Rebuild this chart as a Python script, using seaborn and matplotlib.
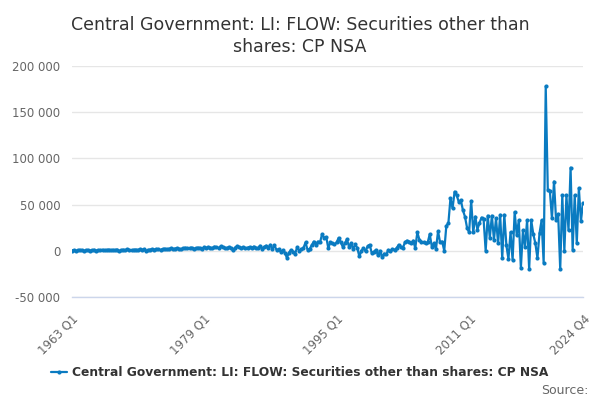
import matplotlib
matplotlib.use("Agg")
import matplotlib.pyplot as plt
import matplotlib.ticker as mticker
import seaborn as sns
import pandas as pd

start_year = 1963
end_label = "2024 Q4"

values = [
    # 1963-1966
    200, 800, -300, 600, 1000, 400, -200, 700, 900, 300, 500, 1100, 200, 800, 600, 1200,
    # 1967-1970
    400, 900, 1300, 500, 1000, 700, 1400, -700, 800, 1200, 600, 1500, 900, 400, 1100, 1300,
    # 1971-1974
    800, 1600, 1000, 1800, -400, 900, 1400, 1700, 1200, 2000, 1500, 1000, 1900, 2300, 1600, 2100,
    # 1975-1978
    2600, 1800, 2400, 3000, 2200, 1500, 2800, 3300, 2500, 2900, 3500, 2000, 2700, 3400, 3100, 2400,
    # 1979-1982
    3800, 2900, 4200, 3500, 2600, 4500, 3900, 3000, 4800, 3600, 3200, 2800, 4100, 2600, 500, 3500,
    # 1983-1986
    5200, 4000, 3100, 3800, 2700, 3500, 4200, 3000, 4600, 3300, 2500, 5500, 2400, 4000, 5600, 3200,
    # 1987-1990
    6500, 2000, 5800, 1000, 1500, -1000, 500, -2000, -7500, -2000, 1000, -1000, -3000, 4000, 0, 1500,
    # 1991-1994
    3000, 9000, 1000, 2000, 6000, 10000, 6500, 10000, 9000, 18000, 14000, 15000, 3000, 9000, 8000, 7000,
    # 1995-1998
    9000, 14000, 9000, 4500, 8000, 12500, 4500, 8000, 2000, 7000, 3000, -6000, 0, 3000, -700, 5000,
    # 1999-2002
    6500, -2500, -1000, 1000, -5000, 0, -7000, -3000, -4000, 1000, -500, 2000, 1000, 3000, 6500, 4000,
    # 2003-2006
    3000, 9000, 11000, 10000, 8000, 11000, 3000, 20000, 12000, 10000, 9000, 8000, 9000, 18000, 4500, 8000,
    # 2007-2010
    2000, 21000, 9000, 10000, 0, 27000, 30000, 57000, 46000, 64000, 60000, 53000, 55000, 44000, 37000, 25000,
    # 2011-2014
    20000, 54000, 20000, 37000, 23000, 30000, 36000, 34000, 0, 38000, 14000, 38000, 12000, 35000, 8000, 39000,
    # 2015-2018
    -8000, 39000, 6000, -9000, 20000, -10000, 42000, 17000, 33000, -18500, 22000, 4000, 33000, -20000, 33000, 18000,
    # 2019-2022
    8000, -8000, 19000, 33000, -13000, 178000, 66000, 65000, 35000, 75000, 33000, 40000, -20000, 60000, 0, 60000,
    # 2023-2024
    22000, 90000, 1000, 60000, 8000, 68000, 32000, 52000,
]

series_name = "Central Government: LI: FLOW: Securities other than shares: CP NSA"
title_text = "Central Government: LI: FLOW: Securities other than\nshares: CP NSA"

n = len(values)
labels = [f"{start_year + i // 4} Q{i % 4 + 1}" for i in range(n)]
df = pd.DataFrame({"idx": range(n), "value": values, "label": labels})

sns.set_theme(style="white")
plt.rcParams["font.family"] = ["DejaVu Sans"]

blue = "#0a7bc1"
fig = plt.figure(figsize=(6, 4), dpi=100)
ax = fig.add_axes([71.5 / 600, 1 - 297 / 400, 511.5 / 600, (297 - 66) / 400])

sns.lineplot(data=df, x="idx", y="value", ax=ax, color=blue, linewidth=1.6,
             marker="o", markersize=3, markeredgewidth=0, label=series_name, legend=False)

ax.set_xlim(0, n - 1)
ax.set_ylim(-50000, 200000)
ax.set_yticks([-50000, 0, 50000, 100000, 150000, 200000])
ax.yaxis.set_major_formatter(mticker.FuncFormatter(lambda v, p: f"{int(v):,}".replace(",", " ")))
ax.grid(axis="y", color="#e6e6e6", linewidth=1)
ax.grid(axis="x", visible=False)

tick_pos = list(range(0, 225, 16)) + [n - 1]
tick_lab = []
for t in tick_pos:
    if t == n - 1:
        tick_lab.append(labels[t])
    elif t % 64 == 0:
        tick_lab.append(labels[t])
    else:
        tick_lab.append("")
ax.set_xticks(tick_pos)
ax.set_xticklabels(tick_lab, rotation=45, ha="right", rotation_mode="anchor")

for s in ["top", "right", "left"]:
    ax.spines[s].set_visible(False)
ax.spines["bottom"].set_color("#ccd6eb")
ax.spines["bottom"].set_linewidth(1)
ax.tick_params(axis="x", colors="#666666", labelsize=8.5, length=8, width=1, direction="out", color="#ccd6eb", pad=3)
ax.tick_params(axis="y", colors="#666666", labelsize=8.5, length=0, pad=8)
ax.set_xlabel("")
ax.set_ylabel("")

fig.text(0.5, 0.96, title_text, ha="center", va="top", fontsize=12.5, color="#333333", linespacing=1.3)

handle = plt.Line2D([], [], color=blue, linewidth=1.6, marker="o", markersize=3, markeredgewidth=0)
fig.legend([handle], [series_name], loc="center", bbox_to_anchor=(0.5, 1 - 373 / 400),
           frameon=False, prop={"weight": "bold", "size": 8.8}, handlelength=1.3,
           handletextpad=0.4, labelcolor="#333333")

fig.text(0.98, 1 - 390 / 400, "Source:", ha="right", va="center", fontsize=9, color="#666666")

fig.savefig("out.png", dpi=100)
